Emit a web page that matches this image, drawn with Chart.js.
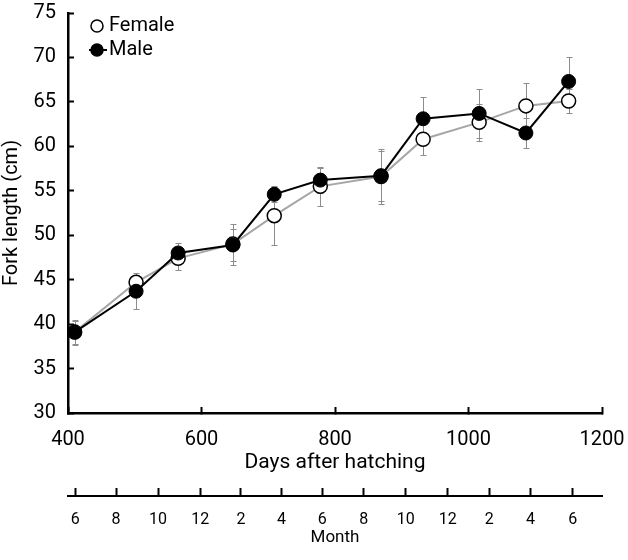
<!DOCTYPE html>
<html>
<head>
<meta charset="utf-8">
<script src="https://cdn.jsdelivr.net/npm/chart.js@4.4.1/dist/chart.umd.min.js"></script>
<style>
  html, body { margin: 0; padding: 0; background: #fff; }
  #wrap { width: 628px; height: 560px; }
</style>
</head>
<body>
<div id="wrap"><canvas id="growthChart"></canvas></div>
<script>
// days after hatching for each sampling
const days = [410, 502, 565, 647, 709, 778, 869, 932, 1016, 1086, 1150];
const femaleLength = [39.1, 44.7, 47.4, 49.0, 52.2, 55.5, 56.6, 60.8, 62.7, 64.55, 65.1];
const femaleSd = [1.3, 0.6, 1.3, 2.3, 3.25, 2.2, 3.1, 1.8, 2.1, 2.55, 1.4];
const maleLength = [39.1, 43.7, 48.0, 48.9, 54.6, 56.2, 56.7, 63.1, 63.7, 61.5, 67.3];
const maleSd = [1.4, 2.0, 1.1, 1.8, 0.9, 1.4, 2.8, 2.5, 2.8, 1.65, 2.8];

// month scale under the day axis
const monthDays = [411, 472, 535, 598, 659, 720, 781, 843, 906, 969, 1031, 1093, 1156];
const monthLabels = ['6', '8', '10', '12', '2', '4', '6', '8', '10', '12', '2', '4', '6'];

const FONT = "'Roboto', 'Liberation Sans', sans-serif";

Chart.defaults.font.family = FONT;
Chart.defaults.color = '#000';

function legendIcon(fill, line) {
  const cv = document.createElement('canvas');
  cv.width = 44;
  cv.height = 18;
  const g = cv.getContext('2d');
  if (line) {
    g.strokeStyle = line;
    g.lineWidth = 2;
    g.beginPath();
    g.moveTo(24, 9);
    g.lineTo(42, 9);
    g.stroke();
  }
  g.beginPath();
  g.arc(32, 9, 6, 0, Math.PI * 2);
  g.fillStyle = fill;
  g.fill();
  g.lineWidth = 1.5;
  g.strokeStyle = '#000';
  g.stroke();
  return cv;
}
const legendIcons = [legendIcon('#fff', null), legendIcon('#000', '#000')];

// sd bars, drawn under the markers
const errorBars = {
  id: 'errorBars',
  beforeDatasetsDraw(chart) {
    const { ctx, scales: { x, y } } = chart;
    ctx.save();
    ctx.strokeStyle = '#8c8c8c';
    ctx.lineWidth = 1;
    [[femaleLength, femaleSd], [maleLength, maleSd]].forEach(([vals, sds]) => {
      vals.forEach((v, i) => {
        const px = Math.round(x.getPixelForValue(days[i])) + 0.5;
        const top = Math.round(y.getPixelForValue(v + sds[i])) + 0.5;
        const bot = Math.round(y.getPixelForValue(v - sds[i])) + 0.5;
        ctx.beginPath();
        ctx.moveTo(px, top);
        ctx.lineTo(px, bot);
        ctx.moveTo(px - 3, top);
        ctx.lineTo(px + 3, top);
        ctx.moveTo(px - 3, bot);
        ctx.lineTo(px + 3, bot);
        ctx.stroke();
      });
    });
    ctx.restore();
  }
};

// nudge the in-plot legend a little down and right
const legendNudge = {
  id: 'legendNudge',
  afterLayout(chart) {
    chart.legend.top = chart.chartArea.top - 1;
    chart.legend.left = chart.chartArea.left + 3;
  }
};

// tick padding would otherwise push the plot area inwards
function noEdgePadding(scale) {
  scale.paddingLeft = 0;
  scale.paddingRight = 0;
  scale.paddingTop = 0;
  scale.paddingBottom = 0;
}

const ctx = document.getElementById('growthChart').getContext('2d');

new Chart(ctx, {
  type: 'line',
  data: {
    datasets: [
      {
        label: 'Female',
        data: days.map((d, i) => ({ x: d, y: femaleLength[i] })),
        borderColor: '#a6a6a6',
        borderWidth: 2,
        pointRadius: 7,
        pointBackgroundColor: '#fff',
        pointBorderColor: '#000',
        pointBorderWidth: 1.5,
        order: 1,
      },
      {
        label: 'Male',
        data: days.map((d, i) => ({ x: d, y: maleLength[i] })),
        borderColor: '#000',
        borderWidth: 2,
        pointRadius: 7,
        pointBackgroundColor: '#000',
        pointBorderColor: '#000',
        pointBorderWidth: 1,
        order: 0,
      },
    ],
  },
  options: {
    responsive: true,
    maintainAspectRatio: false,
    animation: false,
    layout: {
      padding: { top: 13, right: 26, bottom: 0, left: 0 },
    },
    plugins: {
      tooltip: { enabled: false },
      legend: {
        position: 'chartArea',
        align: 'start',
        labels: {
          usePointStyle: true,
          pointStyleWidth: 24,
          padding: 4,
          font: { size: 20 },
          color: '#000',
          generateLabels(chart) {
            const items = Chart.defaults.plugins.legend.labels.generateLabels(chart);
            items.forEach(it => { it.pointStyle = legendIcons[it.datasetIndex]; });
            return items.sort((a, b) => a.datasetIndex - b.datasetIndex);
          },
        },
      },
    },
    scales: {
      x: {
        type: 'linear',
        position: 'bottom',
        weight: 0,
        min: 400,
        max: 1200,
        afterFit(scale) { scale.height = 83; noEdgePadding(scale); },
        ticks: {
          stepSize: 200,
          padding: 21,
          font: { size: 20 },
          color: '#000',
          callback: (value) => String(value),
        },
        grid: { drawOnChartArea: false, tickLength: -6, tickWidth: 2, tickColor: '#000' },
        border: { color: '#000', width: 2.5 },
        title: {
          display: true,
          text: 'Days after hatching',
          font: { size: 21 },
          color: '#000',
          padding: { top: 0, bottom: 21 },
        },
      },
      month: {
        type: 'linear',
        position: 'bottom',
        weight: 1,
        min: 400,
        max: 1200,
        afterFit(scale) { scale.height = 64; noEdgePadding(scale); },
        afterBuildTicks(scale) {
          scale.ticks = monthDays.map(v => ({ value: v }));
        },
        ticks: {
          padding: 22,
          font: { size: 16 },
          color: '#000',
          autoSkip: false,
          maxRotation: 0,
          callback: (value, index) => monthLabels[index],
        },
        grid: { drawOnChartArea: false, tickLength: -8, tickWidth: 2, tickColor: '#000' },
        border: { color: '#000', width: 2 },
        title: {
          display: true,
          text: 'Month',
          font: { size: 17 },
          color: '#000',
          padding: { top: 0, bottom: 12 },
        },
      },
      y: {
        min: 30,
        max: 75,
        afterFit(scale) { scale.width = 68; noEdgePadding(scale); },
        ticks: { stepSize: 5, padding: 18, font: { size: 20 }, color: '#000' },
        grid: { drawOnChartArea: false, tickLength: -6, tickWidth: 2, tickColor: '#000' },
        border: { color: '#000', width: 2.5 },
        title: {
          display: true,
          text: 'Fork length (cm)',
          font: { size: 20 },
          color: '#000',
          padding: { top: 0, bottom: 0 },
        },
      },
    },
  },
  plugins: [errorBars, legendNudge],
});
</script>
</body>
</html>
